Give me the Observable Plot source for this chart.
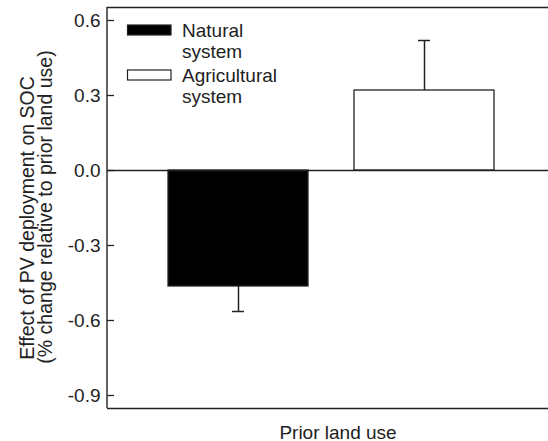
<!DOCTYPE html>
<html><head><meta charset="utf-8">
<script src="https://cdn.jsdelivr.net/npm/d3@7"></script>
<script src="https://cdn.jsdelivr.net/npm/@observablehq/plot@0.6"></script>
<style>html,body{margin:0;padding:0;background:#fff;overflow:hidden} svg{display:block}</style>
</head><body><div id="chart"></div>
<script>
// ---- data ----
const categories = ["Natural system", "Agricultural system"];
const legendLines = [["Natural", "system"], ["Agricultural", "system"]];
const values = [-0.464, 0.32];
const errors = [0.10, 0.20];
const fills = ["#000000", "#ffffff"];
const yTicks = [-0.9, -0.6, -0.3, 0, 0.3, 0.6];
const yDomain = [-0.952, 0.652];
const yTitle = ["Effect of PV deployment on SOC", "(% change relative to prior land use)"];
const xTitle = "Prior land use";

const data = categories.map((c, i) => ({
  category: c, value: values[i], err: errors[i],
  end: values[i] + Math.sign(values[i]) * errors[i], fill: fills[i]
}));

const FONT = "'Liberation Sans', Arial, Helvetica, sans-serif";
const INK = "#222";

function decor(index, scales, vals, dimensions) {
  const {marginLeft, marginTop, marginBottom, height} = dimensions;
  const g = d3.create("svg:g");
  // left spine
  g.append("line").attr("x1", marginLeft).attr("x2", marginLeft)
    .attr("y1", marginTop).attr("y2", height - marginBottom)
    .attr("stroke", INK).attr("stroke-width", 1.4);
  // legend
  const lg = g.append("g").attr("font-family", FONT).attr("font-size", 19)
    .attr("fill", INK).attr("text-anchor", "start");
  categories.forEach((c, i) => {
    const top = marginTop + 18 + 45 * i;
    lg.append("rect").attr("x", marginLeft + 20.5).attr("y", top)
      .attr("width", 43.5).attr("height", 10)
      .attr("fill", fills[i]).attr("stroke", INK).attr("stroke-width", 1.2);
    legendLines[i].forEach((t, j) => {
      lg.append("text").attr("x", marginLeft + 75).attr("y", top + 12 + 21 * j).text(t);
    });
  });
  return g.node();
}

const chart = Plot.plot({
  width: 548, height: 441,
  marginLeft: 107, marginRight: 0, marginTop: 7, marginBottom: 33,
  style: {fontFamily: FONT, fontSize: "19px", color: INK, background: "#fff"},
  x: {domain: categories, range: [167.5, 494], paddingInner: 0.25, paddingOuter: 0, axis: null},
  y: {domain: yDomain, axis: null},
  color: {type: "identity"},
  marks: [
    Plot.barY(data, {x: "category", y: "value", fill: "fill", stroke: INK, strokeWidth: 1.3}),
    Plot.ruleY([0], {stroke: INK, strokeWidth: 1.4}),
    Plot.ruleY(yDomain, {stroke: INK, strokeWidth: 1.4}),
    Plot.ruleX(data, {x: "category", y1: "value", y2: "end", stroke: INK, strokeWidth: 1.5}),
    Plot.tickY(data, {x: "category", y: "end", insetLeft: 64, insetRight: 64, stroke: INK, strokeWidth: 1.5}),
    Plot.axisY({ticks: yTicks, anchor: "left", tickSize: -7, tickPadding: 14,
      tickFormat: d => d.toFixed(1), label: null, stroke: INK, strokeWidth: 1.3, fill: INK}),
    Plot.text([yTitle[0]], {text: d => d, frameAnchor: "left", rotate: -90, dx: -74, dy: 10,
      lineAnchor: "bottom", textAnchor: "middle", fontSize: 19.5, fill: INK}),
    Plot.text([yTitle[1]], {text: d => d, frameAnchor: "left", rotate: -90, dx: -56, dy: -1,
      lineAnchor: "bottom", textAnchor: "middle", fontSize: 19.5, fill: INK}),
    Plot.text([xTitle], {text: d => d, frameAnchor: "bottom", dx: 10, dy: 30,
      lineAnchor: "bottom", textAnchor: "middle", fontSize: 19, fill: INK}),
    decor
  ]
});
document.getElementById("chart").append(chart);
</script>
</body></html>
